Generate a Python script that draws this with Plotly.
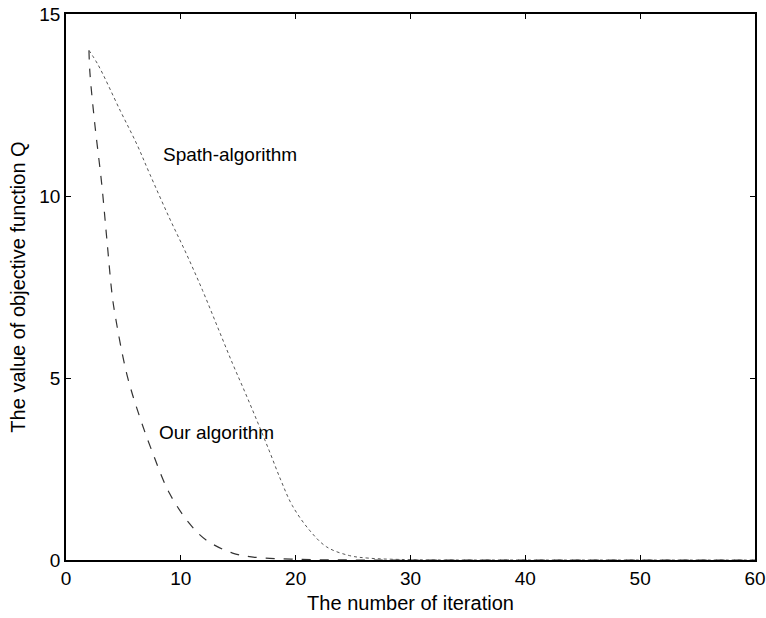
import plotly.graph_objects as go

# Our algorithm (dashed)
our_x = [2.0, 2.08, 2.5, 3.1, 3.56, 4.0, 4.25, 5.3, 6.42, 7.55, 9.0, 10.76, 12.2, 14.5, 16.3, 20.0, 25.0, 30.0, 40.0, 50.0, 60.0]
our_y = [14.0, 13.4, 12.0, 10.36, 8.8, 7.33, 6.78, 5.1, 3.93, 2.94, 1.84, 1.0, 0.55, 0.19, 0.08, 0.02, 0.0, 0.0, 0.0, 0.0, 0.0]

# Spath-algorithm (dotted)
spath_x = [2.0, 2.8, 4.7, 6.2, 7.3, 9.0, 10.5, 11.9, 13.2, 14.5, 15.6, 16.6, 17.7, 18.7, 19.7, 21.2, 22.7, 24.7, 26.4, 30.0, 40.0, 50.0, 60.0]
spath_y = [14.0, 13.6, 12.36, 11.4, 10.6, 9.4, 8.4, 7.4, 6.4, 5.4, 4.6, 3.85, 3.0, 2.2, 1.5, 0.82, 0.36, 0.12, 0.05, 0.01, 0.0, 0.0, 0.0]

x_ticks = [0, 10, 20, 30, 40, 50, 60]
y_ticks = [0, 5, 10, 15]

font_family = "Liberation Sans, Arial, sans-serif"

fig = go.Figure()
fig.add_trace(go.Scatter(x=our_x, y=our_y, mode="lines", line=dict(color="#333333", width=1.2, dash="dash", shape="spline"), showlegend=False))
fig.add_trace(go.Scatter(x=spath_x, y=spath_y, mode="lines", line=dict(color="#555555", width=1, dash="dot", shape="spline"), showlegend=False))

fig.add_annotation(x=8.3, y=11.13, text="Spath-algorithm", showarrow=False, xanchor="left", yanchor="middle",
                   font=dict(family=font_family, size=19, color="black"))
fig.add_annotation(x=7.9, y=3.49, text="Our algorithm", showarrow=False, xanchor="left", yanchor="middle",
                   font=dict(family=font_family, size=19, color="black"))

axis_common = dict(showgrid=False, zeroline=False, showline=True, linecolor="black", linewidth=1.5,
                   mirror="ticks", ticks="inside", ticklen=5, tickcolor="black", automargin=False,
                   tickfont=dict(family=font_family, size=19, color="black"))

fig.update_xaxes(range=[0, 60], tickvals=x_ticks, title=dict(text="The number of iteration", standoff=8,
                 font=dict(family=font_family, size=20, color="black")), **axis_common)
fig.update_yaxes(range=[0, 15], tickvals=y_ticks, title=dict(text="The value of objective function Q", standoff=8,
                 font=dict(family=font_family, size=20, color="black")), **axis_common)

fig.update_layout(width=766, height=618, margin=dict(l=66, r=11, t=14, b=58),
                  plot_bgcolor="white", paper_bgcolor="white")

fig.write_html("out.html")
